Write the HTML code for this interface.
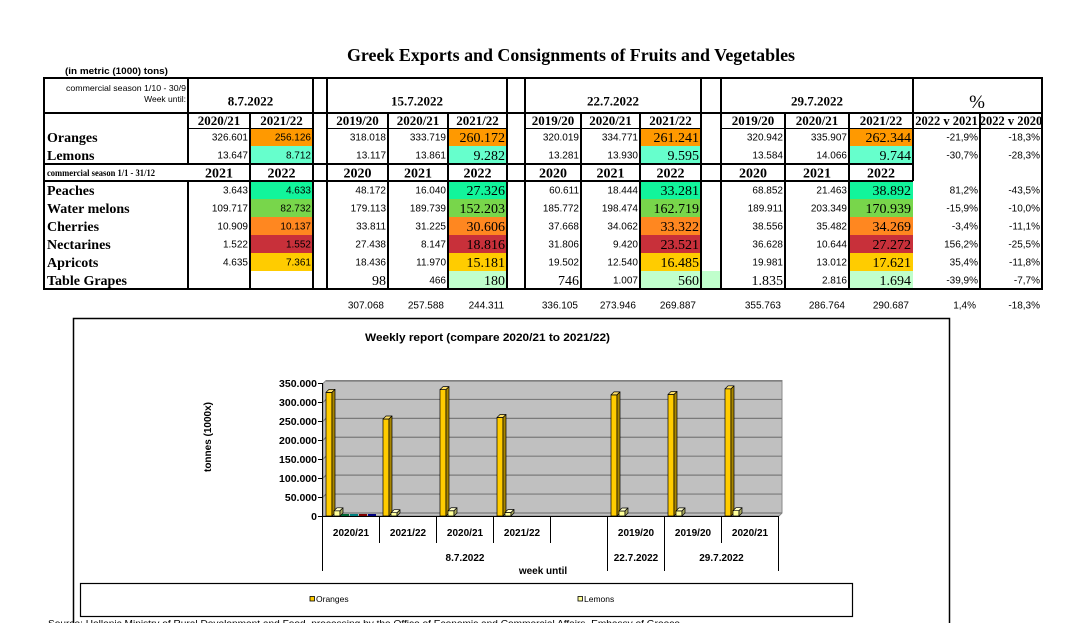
<!DOCTYPE html>
<html><head><meta charset="utf-8">
<style>
html,body{margin:0;padding:0;background:#fff;}
svg{display:block;}
.s{font-family:"Liberation Sans",Arial,sans-serif;font-size:10px;text-anchor:end;fill:#000;}
.b{font-family:"Liberation Serif",serif;font-size:14px;text-anchor:end;fill:#000;}
.h{font-family:"Liberation Serif",serif;font-size:13px;font-weight:bold;text-anchor:middle;fill:#000;}
.h2{font-family:"Liberation Serif",serif;font-size:14px;font-weight:bold;text-anchor:middle;fill:#000;}
.l{font-family:"Liberation Serif",serif;font-size:14px;font-weight:bold;fill:#000;}
.ya{font-family:"Liberation Sans",Arial,sans-serif;font-size:10.5px;font-weight:bold;text-anchor:end;fill:#000;}
.xa{font-family:"Liberation Sans",Arial,sans-serif;font-size:10px;font-weight:bold;text-anchor:middle;fill:#000;}
.lg{font-family:"Liberation Sans",Arial,sans-serif;font-size:8.5px;fill:#000;}
</style></head>
<body>
<svg width="1087" height="623" xmlns="http://www.w3.org/2000/svg">
<rect width="1087" height="623" fill="#fff"/>

<!-- Title -->
<text x="347" y="61" textLength="448" lengthAdjust="spacingAndGlyphs" style="font-family:'Liberation Serif',serif;font-size:18px;font-weight:bold;">Greek Exports and Consignments of Fruits and Vegetables</text>
<text x="65" y="74" textLength="103" lengthAdjust="spacingAndGlyphs" style="font-family:'Liberation Sans',Arial,sans-serif;font-size:9px;font-weight:bold;">(in metric (1000) tons)</text>

<!-- Fills -->
<g>
<!-- Oranges -->
<rect x="250" y="128" width="63" height="18" fill="#FF9900"/>
<rect x="448" y="128" width="59" height="18" fill="#FF9900"/>
<rect x="640" y="128" width="61" height="18" fill="#FF9900"/>
<rect x="849" y="128" width="64" height="18" fill="#FF9900"/>
<!-- Lemons -->
<rect x="250" y="146" width="63" height="18" fill="#66FFCC"/>
<rect x="448" y="146" width="59" height="18" fill="#66FFCC"/>
<rect x="640" y="146" width="61" height="18" fill="#66FFCC"/>
<rect x="849" y="146" width="64" height="18" fill="#66FFCC"/>
<!-- Peaches -->
<rect x="250" y="181" width="63" height="18" fill="#12F59B"/>
<rect x="448" y="181" width="59" height="18" fill="#12F59B"/>
<rect x="640" y="181" width="61" height="18" fill="#12F59B"/>
<rect x="849" y="181" width="64" height="18" fill="#12F59B"/>
<!-- Water melons -->
<rect x="250" y="199" width="63" height="18" fill="#78D64B"/>
<rect x="448" y="199" width="59" height="18" fill="#78D64B"/>
<rect x="640" y="199" width="61" height="18" fill="#78D64B"/>
<rect x="849" y="199" width="64" height="18" fill="#78D64B"/>
<!-- Cherries -->
<rect x="250" y="217" width="63" height="18" fill="#FF8720"/>
<rect x="448" y="217" width="59" height="18" fill="#FF8720"/>
<rect x="640" y="217" width="61" height="18" fill="#FF8720"/>
<rect x="849" y="217" width="64" height="18" fill="#FF8720"/>
<!-- Nectarines -->
<rect x="250" y="235" width="63" height="18" fill="#C8303A"/>
<rect x="448" y="235" width="59" height="18" fill="#C8303A"/>
<rect x="640" y="235" width="61" height="18" fill="#C8303A"/>
<rect x="849" y="235" width="64" height="18" fill="#C8303A"/>
<!-- Apricots -->
<rect x="250" y="253" width="63" height="18" fill="#FFCC00"/>
<rect x="448" y="253" width="59" height="18" fill="#FFCC00"/>
<rect x="640" y="253" width="61" height="18" fill="#FFCC00"/>
<rect x="849" y="253" width="64" height="18" fill="#FFCC00"/>
<!-- Table grapes -->
<rect x="448" y="271" width="59" height="18" fill="#C0FFCC"/>
<rect x="640" y="271" width="81" height="18" fill="#C0FFCC"/>
<rect x="849" y="271" width="64" height="18" fill="#C0FFCC"/>
</g>

<!-- Table lines -->
<g stroke="#000" stroke-width="2" shape-rendering="crispEdges" fill="none">
<line x1="43" y1="78" x2="1043" y2="78"/>
<line x1="43" y1="113" x2="1043" y2="113"/>
<line x1="43" y1="164" x2="913" y2="164"/>
<line x1="43" y1="181" x2="913" y2="181"/>
<line x1="43" y1="289" x2="1043" y2="289"/>
<line x1="44" y1="78" x2="44" y2="289"/>
<line x1="313" y1="78" x2="313" y2="289"/>
<line x1="327" y1="78" x2="327" y2="289"/>
<line x1="507" y1="78" x2="507" y2="289"/>
<line x1="525" y1="78" x2="525" y2="289"/>
<line x1="701" y1="78" x2="701" y2="289"/>
<line x1="721" y1="78" x2="721" y2="289"/>
<line x1="1042" y1="78" x2="1042" y2="289"/>
<line x1="188" y1="78" x2="188" y2="164"/>
<line x1="188" y1="181" x2="188" y2="289"/>
<line x1="250" y1="113" x2="250" y2="289"/>
<line x1="388" y1="113" x2="388" y2="289"/>
<line x1="448" y1="113" x2="448" y2="289"/>
<line x1="581" y1="113" x2="581" y2="289"/>
<line x1="640" y1="113" x2="640" y2="289"/>
<line x1="785" y1="113" x2="785" y2="289"/>
<line x1="849" y1="113" x2="849" y2="289"/>
<line x1="913" y1="78" x2="913" y2="181"/>
<line x1="980" y1="113" x2="980" y2="289"/>
</g>
<g stroke="#000" stroke-width="1" shape-rendering="crispEdges">
<line x1="188" y1="128.5" x2="313" y2="128.5"/>
<line x1="327" y1="128.5" x2="507" y2="128.5"/>
<line x1="525" y1="128.5" x2="701" y2="128.5"/>
<line x1="721" y1="128.5" x2="1042" y2="128.5"/>
</g>

<!-- Header text -->
<text x="186" y="91" textLength="120" lengthAdjust="spacingAndGlyphs" style="font-family:'Liberation Sans',Arial,sans-serif;font-size:8.5px;text-anchor:end;">commercial season 1/10 - 30/9</text>
<text x="186" y="102" style="font-family:'Liberation Sans',Arial,sans-serif;font-size:8.5px;text-anchor:end;">Week until:</text>
<text class="h" x="250.5" y="105.5">8.7.2022</text>
<text class="h" x="417" y="105.5">15.7.2022</text>
<text class="h" x="613" y="105.5">22.7.2022</text>
<text class="h" x="817" y="105.5">29.7.2022</text>
<text x="977" y="108" style="font-family:'Liberation Serif',serif;font-size:19px;text-anchor:middle;">%</text>

<text class="h" x="219" y="125">2020/21</text>
<text class="h" x="281.5" y="125">2021/22</text>
<text class="h" x="357.5" y="125">2019/20</text>
<text class="h" x="418" y="125">2020/21</text>
<text class="h" x="477.5" y="125">2021/22</text>
<text class="h" x="553" y="125">2019/20</text>
<text class="h" x="610.5" y="125">2020/21</text>
<text class="h" x="670.5" y="125">2021/22</text>
<text class="h" x="753" y="125">2019/20</text>
<text class="h" x="817" y="125">2020/21</text>
<text class="h" x="881" y="125">2021/22</text>
<text class="h" x="946.5" y="125" style="font-size:12.5px">2022 v 2021</text>
<text class="h" x="1011" y="125" style="font-size:12.5px">2022 v 2020</text>

<text x="47" y="176" textLength="108" lengthAdjust="spacingAndGlyphs" style="font-family:'Liberation Serif',serif;font-size:9px;font-weight:bold;">commercial season 1/1 - 31/12</text>
<text class="h2" x="219" y="177.5">2021</text>
<text class="h2" x="281.5" y="177.5">2022</text>
<text class="h2" x="357.5" y="177.5">2020</text>
<text class="h2" x="418" y="177.5">2021</text>
<text class="h2" x="477.5" y="177.5">2022</text>
<text class="h2" x="553" y="177.5">2020</text>
<text class="h2" x="610.5" y="177.5">2021</text>
<text class="h2" x="670.5" y="177.5">2022</text>
<text class="h2" x="753" y="177.5">2020</text>
<text class="h2" x="817" y="177.5">2021</text>
<text class="h2" x="881" y="177.5">2022</text>

<!-- Row labels -->
<text class="l" x="47" y="142">Oranges</text>
<text class="l" x="47" y="160">Lemons</text>
<text class="l" x="47" y="195">Peaches</text>
<text class="l" x="47" y="213">Water melons</text>
<text class="l" x="47" y="231">Cherries</text>
<text class="l" x="47" y="249">Nectarines</text>
<text class="l" x="47" y="267">Apricots</text>
<text class="l" x="47" y="285">Table Grapes</text>

<!-- Oranges -->
<text class="s" x="248" y="140.5">326.601</text>
<text class="s" x="311" y="140.5">256.126</text>
<text class="s" x="386" y="140.5">318.018</text>
<text class="s" x="446" y="140.5">333.719</text>
<text class="b" x="505" y="142">260.172</text>
<text class="s" x="579" y="140.5">320.019</text>
<text class="s" x="638" y="140.5">334.771</text>
<text class="b" x="699" y="142">261.241</text>
<text class="s" x="783" y="140.5">320.942</text>
<text class="s" x="847" y="140.5">335.907</text>
<text class="b" x="911" y="142">262.344</text>
<text class="s" x="978" y="140.5">-21,9%</text>
<text class="s" x="1040" y="140.5">-18,3%</text>
<!-- Lemons -->
<text class="s" x="248" y="158.5">13.647</text>
<text class="s" x="311" y="158.5">8.712</text>
<text class="s" x="386" y="158.5">13.117</text>
<text class="s" x="446" y="158.5">13.861</text>
<text class="b" x="505" y="160">9.282</text>
<text class="s" x="579" y="158.5">13.281</text>
<text class="s" x="638" y="158.5">13.930</text>
<text class="b" x="699" y="160">9.595</text>
<text class="s" x="783" y="158.5">13.584</text>
<text class="s" x="847" y="158.5">14.066</text>
<text class="b" x="911" y="160">9.744</text>
<text class="s" x="978" y="158.5">-30,7%</text>
<text class="s" x="1040" y="158.5">-28,3%</text>
<!-- Peaches -->
<text class="s" x="248" y="193.5">3.643</text>
<text class="s" x="311" y="193.5">4.633</text>
<text class="s" x="386" y="193.5">48.172</text>
<text class="s" x="446" y="193.5">16.040</text>
<text class="b" x="505" y="195">27.326</text>
<text class="s" x="579" y="193.5">60.611</text>
<text class="s" x="638" y="193.5">18.444</text>
<text class="b" x="699" y="195">33.281</text>
<text class="s" x="783" y="193.5">68.852</text>
<text class="s" x="847" y="193.5">21.463</text>
<text class="b" x="911" y="195">38.892</text>
<text class="s" x="978" y="193.5">81,2%</text>
<text class="s" x="1040" y="193.5">-43,5%</text>
<!-- Water melons -->
<text class="s" x="248" y="211.5">109.717</text>
<text class="s" x="311" y="211.5">82.732</text>
<text class="s" x="386" y="211.5">179.113</text>
<text class="s" x="446" y="211.5">189.739</text>
<text class="b" x="505" y="213">152.203</text>
<text class="s" x="579" y="211.5">185.772</text>
<text class="s" x="638" y="211.5">198.474</text>
<text class="b" x="699" y="213">162.719</text>
<text class="s" x="783" y="211.5">189.911</text>
<text class="s" x="847" y="211.5">203.349</text>
<text class="b" x="911" y="213">170.939</text>
<text class="s" x="978" y="211.5">-15,9%</text>
<text class="s" x="1040" y="211.5">-10,0%</text>
<!-- Cherries -->
<text class="s" x="248" y="229.5">10.909</text>
<text class="s" x="311" y="229.5">10.137</text>
<text class="s" x="386" y="229.5">33.811</text>
<text class="s" x="446" y="229.5">31.225</text>
<text class="b" x="505" y="231">30.606</text>
<text class="s" x="579" y="229.5">37.668</text>
<text class="s" x="638" y="229.5">34.062</text>
<text class="b" x="699" y="231">33.322</text>
<text class="s" x="783" y="229.5">38.556</text>
<text class="s" x="847" y="229.5">35.482</text>
<text class="b" x="911" y="231">34.269</text>
<text class="s" x="978" y="229.5">-3,4%</text>
<text class="s" x="1040" y="229.5">-11,1%</text>
<!-- Nectarines -->
<text class="s" x="248" y="247.5">1.522</text>
<text class="s" x="311" y="247.5">1.552</text>
<text class="s" x="386" y="247.5">27.438</text>
<text class="s" x="446" y="247.5">8.147</text>
<text class="b" x="505" y="249">18.816</text>
<text class="s" x="579" y="247.5">31.806</text>
<text class="s" x="638" y="247.5">9.420</text>
<text class="b" x="699" y="249">23.521</text>
<text class="s" x="783" y="247.5">36.628</text>
<text class="s" x="847" y="247.5">10.644</text>
<text class="b" x="911" y="249">27.272</text>
<text class="s" x="978" y="247.5">156,2%</text>
<text class="s" x="1040" y="247.5">-25,5%</text>
<!-- Apricots -->
<text class="s" x="248" y="265.5">4.635</text>
<text class="s" x="311" y="265.5">7.361</text>
<text class="s" x="386" y="265.5">18.436</text>
<text class="s" x="446" y="265.5">11.970</text>
<text class="b" x="505" y="267">15.181</text>
<text class="s" x="579" y="265.5">19.502</text>
<text class="s" x="638" y="265.5">12.540</text>
<text class="b" x="699" y="267">16.485</text>
<text class="s" x="783" y="265.5">19.981</text>
<text class="s" x="847" y="265.5">13.012</text>
<text class="b" x="911" y="267">17.621</text>
<text class="s" x="978" y="265.5">35,4%</text>
<text class="s" x="1040" y="265.5">-11,8%</text>
<!-- Table grapes -->
<text class="b" x="386" y="285">98</text>
<text class="s" x="446" y="283.5">466</text>
<text class="b" x="505" y="285">180</text>
<text class="b" x="579" y="285">746</text>
<text class="s" x="638" y="283.5">1.007</text>
<text class="b" x="699" y="285">560</text>
<text class="b" x="783" y="285">1.835</text>
<text class="s" x="847" y="283.5">2.816</text>
<text class="b" x="911" y="285">1.694</text>
<text class="s" x="978" y="283.5">-39,9%</text>
<text class="s" x="1040" y="283.5">-7,7%</text>
<!-- Totals -->
<text class="s" x="384" y="308.5">307.068</text>
<text class="s" x="444" y="308.5">257.588</text>
<text class="s" x="504" y="308.5">244.311</text>
<text class="s" x="578" y="308.5">336.105</text>
<text class="s" x="636" y="308.5">273.946</text>
<text class="s" x="696" y="308.5">269.887</text>
<text class="s" x="781" y="308.5">355.763</text>
<text class="s" x="845" y="308.5">286.764</text>
<text class="s" x="909" y="308.5">290.687</text>
<text class="s" x="976" y="308.5">1,4%</text>
<text class="s" x="1040" y="308.5">-18,3%</text>

<!-- ================= CHART ================= -->
<rect x="73.5" y="318.5" width="876" height="330" fill="#fff" stroke="#000" stroke-width="1.5"/>
<text x="365" y="341" textLength="245" lengthAdjust="spacingAndGlyphs" style="font-family:'Liberation Sans',Arial,sans-serif;font-size:11px;font-weight:bold;">Weekly report (compare 2020/21 to 2021/22)</text>

<!-- walls -->
<polygon points="323,383.5 326,380.5 782,380.5 782,513 779,516 323,516" fill="#C0C0C0" stroke="#8a8a8a" stroke-width="1"/>
<g stroke="#7a7a7a" stroke-width="1.2" fill="none">
<polyline points="323,497.07 326,494.07 782,494.07"/>
<polyline points="323,478.14 326,475.14 782,475.14"/>
<polyline points="323,459.21 326,456.21 782,456.21"/>
<polyline points="323,440.28 326,437.28 782,437.28"/>
<polyline points="323,421.35 326,418.35 782,418.35"/>
<polyline points="323,402.42 326,399.42 782,399.42"/>
<line x1="326" y1="381" x2="782" y2="381"/>
<line x1="326" y1="513" x2="782" y2="513"/>
</g>

<!-- axes -->
<g stroke="#000" stroke-width="1" shape-rendering="crispEdges">
<line x1="322.5" y1="383" x2="322.5" y2="516"/>
<line x1="322" y1="516.5" x2="779" y2="516.5"/>
<line x1="318" y1="383.5" x2="323" y2="383.5"/>
<line x1="318" y1="402.5" x2="323" y2="402.5"/>
<line x1="318" y1="421.5" x2="323" y2="421.5"/>
<line x1="318" y1="440.5" x2="323" y2="440.5"/>
<line x1="318" y1="459.5" x2="323" y2="459.5"/>
<line x1="318" y1="478.5" x2="323" y2="478.5"/>
<line x1="318" y1="497.5" x2="323" y2="497.5"/>
<line x1="318" y1="516.5" x2="323" y2="516.5"/>
<!-- category ticks -->
<line x1="322.5" y1="516" x2="322.5" y2="571"/>
<line x1="379.5" y1="516" x2="379.5" y2="543"/>
<line x1="436.5" y1="516" x2="436.5" y2="543"/>
<line x1="493.5" y1="516" x2="493.5" y2="543"/>
<line x1="550.5" y1="516" x2="550.5" y2="543"/>
<line x1="607.5" y1="516" x2="607.5" y2="571"/>
<line x1="664.5" y1="516" x2="664.5" y2="571"/>
<line x1="721.5" y1="516" x2="721.5" y2="543"/>
<line x1="778.5" y1="516" x2="778.5" y2="571"/>
</g>

<!-- y labels -->
<text class="ya" x="317" y="387">350.000</text>
<text class="ya" x="317" y="406">300.000</text>
<text class="ya" x="317" y="425">250.000</text>
<text class="ya" x="317" y="444">200.000</text>
<text class="ya" x="317" y="463">150.000</text>
<text class="ya" x="317" y="482">100.000</text>
<text class="ya" x="317" y="501">50.000</text>
<text class="ya" x="317" y="520">0</text>

<text transform="translate(211,437) rotate(-90)" style="font-family:'Liberation Sans',Arial,sans-serif;font-size:10px;font-weight:bold;text-anchor:middle;">tonnes (1000x)</text>

<!-- tiny flat series in first category -->
<rect x="341" y="514" width="8" height="2" fill="#006633"/>
<rect x="350" y="514" width="8" height="2" fill="#008080"/>
<rect x="359" y="514" width="8" height="2" fill="#800000"/>
<rect x="368" y="514" width="8" height="2" fill="#000080"/>

<!-- Oranges bars -->
<g stroke="#000" stroke-width="0.7" stroke-linejoin="round">
<!-- cat1 x=326 y=392.35 -->
<rect x="326" y="392.35" width="6" height="123.65" fill="#FFCC00"/>
<polygon points="326,392.35 329,389.35 335,389.35 332,392.35" fill="#FFE066"/>
<polygon points="332,392.35 335,389.35 335,513 332,516" fill="#A88600"/>
<!-- cat2 x=383 y=419.03 -->
<rect x="383" y="419.03" width="6" height="96.97" fill="#FFCC00"/>
<polygon points="383,419.03 386,416.03 392,416.03 389,419.03" fill="#FFE066"/>
<polygon points="389,419.03 392,416.03 392,513 389,516" fill="#A88600"/>
<!-- cat3 x=440 y=389.65 -->
<rect x="440" y="389.65" width="6" height="126.35" fill="#FFCC00"/>
<polygon points="440,389.65 443,386.65 449,386.65 446,389.65" fill="#FFE066"/>
<polygon points="446,389.65 449,386.65 449,513 446,516" fill="#A88600"/>
<!-- cat4 x=497 y=417.5 -->
<rect x="497" y="417.5" width="6" height="98.5" fill="#FFCC00"/>
<polygon points="497,417.5 500,414.5 506,414.5 503,417.5" fill="#FFE066"/>
<polygon points="503,417.5 506,414.5 506,513 503,516" fill="#A88600"/>
<!-- cat6 x=611 y=394.84 -->
<rect x="611" y="394.84" width="6" height="121.16" fill="#FFCC00"/>
<polygon points="611,394.84 614,391.84 620,391.84 617,394.84" fill="#FFE066"/>
<polygon points="617,394.84 620,391.84 620,513 617,516" fill="#A88600"/>
<!-- cat7 x=668 y=394.49 -->
<rect x="668" y="394.49" width="6" height="121.51" fill="#FFCC00"/>
<polygon points="668,394.49 671,391.49 677,391.49 674,394.49" fill="#FFE066"/>
<polygon points="674,394.49 677,391.49 677,513 674,516" fill="#A88600"/>
<!-- cat8 x=725 y=388.83 -->
<rect x="725" y="388.83" width="6" height="127.17" fill="#FFCC00"/>
<polygon points="725,388.83 728,385.83 734,385.83 731,388.83" fill="#FFE066"/>
<polygon points="731,388.83 734,385.83 734,513 731,516" fill="#A88600"/>
</g>

<!-- Lemons bars -->
<g stroke="#000" stroke-width="0.7" stroke-linejoin="round">
<rect x="334" y="510.8" width="6" height="5.2" fill="#FFFF99"/>
<polygon points="334,510.8 337,507.8 343,507.8 340,510.8" fill="#FFFFCC"/>
<polygon points="340,510.8 343,507.8 343,513 340,516" fill="#A8A860"/>

<rect x="391" y="512.7" width="6" height="3.3" fill="#FFFF99"/>
<polygon points="391,512.7 394,509.7 400,509.7 397,512.7" fill="#FFFFCC"/>
<polygon points="397,512.7 400,509.7 400,513 397,516" fill="#A8A860"/>

<rect x="448" y="510.75" width="6" height="5.25" fill="#FFFF99"/>
<polygon points="448,510.75 451,507.75 457,507.75 454,510.75" fill="#FFFFCC"/>
<polygon points="454,510.75 457,507.75 457,513 454,516" fill="#A8A860"/>

<rect x="505" y="512.5" width="6" height="3.5" fill="#FFFF99"/>
<polygon points="505,512.5 508,509.5 514,509.5 511,512.5" fill="#FFFFCC"/>
<polygon points="511,512.5 514,509.5 514,513 511,516" fill="#A8A860"/>

<rect x="619" y="510.97" width="6" height="5.03" fill="#FFFF99"/>
<polygon points="619,510.97 622,507.97 628,507.97 625,510.97" fill="#FFFFCC"/>
<polygon points="625,510.97 628,507.97 628,513 625,516" fill="#A8A860"/>

<rect x="676" y="510.86" width="6" height="5.14" fill="#FFFF99"/>
<polygon points="676,510.86 679,507.86 685,507.86 682,510.86" fill="#FFFFCC"/>
<polygon points="682,510.86 685,507.86 685,513 682,516" fill="#A8A860"/>

<rect x="733" y="510.67" width="6" height="5.33" fill="#FFFF99"/>
<polygon points="733,510.67 736,507.67 742,507.67 739,510.67" fill="#FFFFCC"/>
<polygon points="739,510.67 742,507.67 742,513 739,516" fill="#A8A860"/>
</g>

<!-- x labels -->
<text class="xa" x="351" y="536">2020/21</text>
<text class="xa" x="408" y="536">2021/22</text>
<text class="xa" x="465" y="536">2020/21</text>
<text class="xa" x="522" y="536">2021/22</text>
<text class="xa" x="636" y="536">2019/20</text>
<text class="xa" x="693" y="536">2019/20</text>
<text class="xa" x="750" y="536">2020/21</text>

<text class="xa" x="465" y="561">8.7.2022</text>
<text class="xa" x="636" y="561">22.7.2022</text>
<text class="xa" x="721.5" y="561">29.7.2022</text>
<text class="xa" x="543" y="574">week until</text>

<!-- Legend -->
<rect x="80.5" y="583.5" width="772" height="33" fill="#fff" stroke="#000" stroke-width="1.2"/>
<rect x="310" y="596.5" width="4.5" height="4.5" fill="#FFCC00" stroke="#000" stroke-width="0.8"/>
<text class="lg" x="316" y="602">Oranges</text>
<rect x="578" y="596.5" width="4.5" height="4.5" fill="#FFFF99" stroke="#000" stroke-width="0.8"/>
<text class="lg" x="584" y="602">Lemons</text>

<!-- Source line (cut off) -->
<text x="48" y="626.5" textLength="632" lengthAdjust="spacingAndGlyphs" style="font-family:'Liberation Sans',Arial,sans-serif;font-size:9px;fill:#000;">Source: Hellenic Ministry of Rural Development and Food, processing by the Office of Economic and Commercial Affairs, Embassy of Greece</text>
</svg>
</body></html>
